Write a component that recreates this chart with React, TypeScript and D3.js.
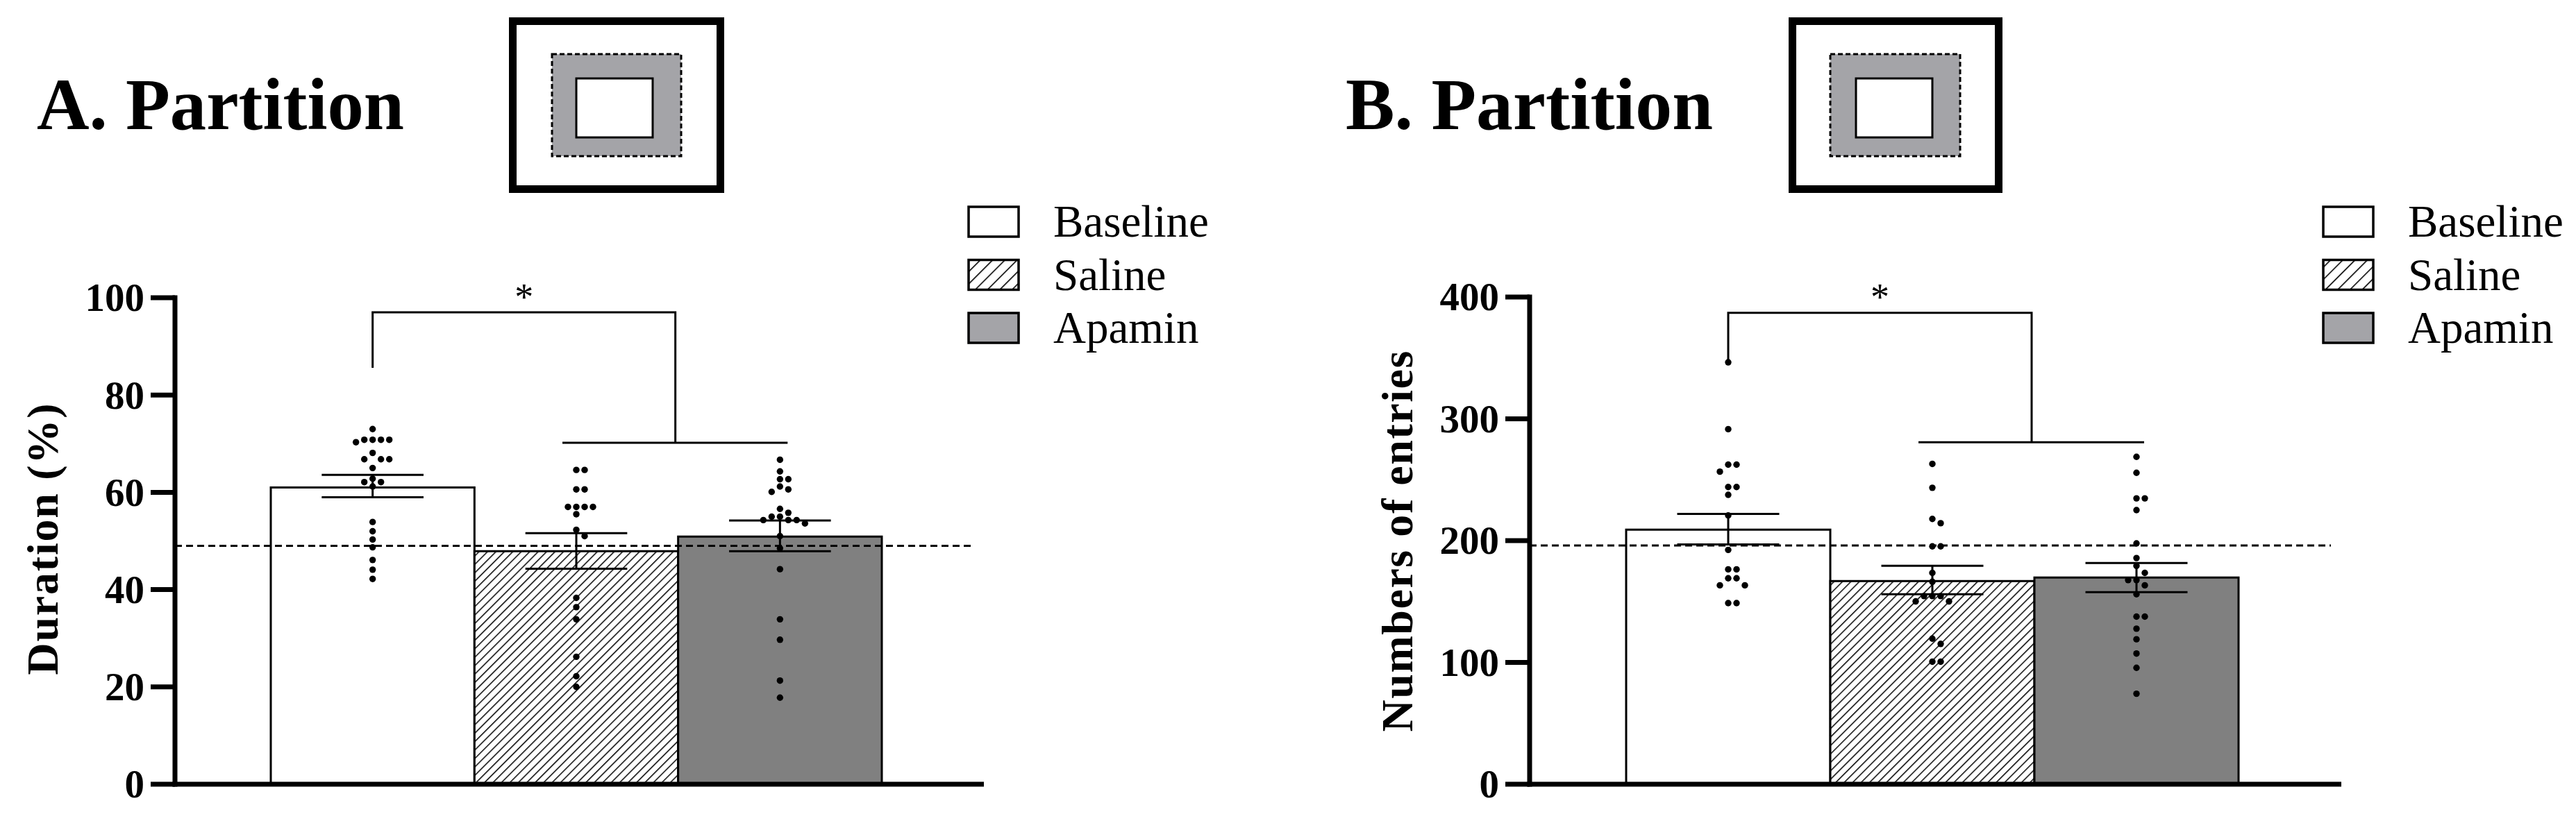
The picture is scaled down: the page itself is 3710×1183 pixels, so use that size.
import React from "react";
import * as d3 from "d3";

// ---------- data ----------
const groups = ["Baseline", "Saline", "Apamin"];
const panelTitles = ["A. Partition", "B. Partition"];
const yAxisLabels = ["Duration (%)", "Numbers of entries"];
const yDomainMax = [100, 400];
const yTickCounts = [5, 4];

const durationMeans = [61.0, 47.9, 50.9];
const durationUpper = [63.6, 51.6, 54.2];
const durationLower = [59.0, 44.3, 47.9];
const entriesMeans = [209, 166.8, 169.7];
const entriesUpper = [222, 179.3, 181.6];
const entriesLower = [196.8, 156, 157.7];

const durationBaselineDots = [73.0, 70.8, 70.8, 70.8, 70.8, 70.3, 68.1, 66.8, 66.8, 66.8, 65.0, 62.8, 62.1, 62.1, 61.2, 53.9, 52.0, 50.3, 48.7, 46.1, 44.1, 42.2];
const durationSalineDots = [64.6, 64.6, 60.6, 60.6, 57.0, 57.0, 57.0, 57.0, 55.5, 52.3, 51.0, 38.3, 36.4, 33.9, 26.2, 22.2, 20.0];
const durationApaminDots = [66.7, 64.3, 62.7, 62.7, 61.2, 60.6, 60.1, 56.6, 55.8, 55.0, 55.0, 54.3, 54.3, 54.3, 53.6, 51.0, 48.5, 44.2, 33.9, 29.7, 21.3, 17.8];

const entriesBaselineDots = [346.4, 291.5, 262.4, 262.4, 256.6, 244, 244, 237.6, 220.7, 192.4, 176.4, 176.4, 169.1, 169.1, 163.3, 163.3, 148.7, 148.7];
const entriesSalineDots = [263, 243.4, 217.8, 214.3, 195.3, 195.3, 173.5, 166.2, 154.5, 154.5, 154.5, 150.1, 150.1, 119.5, 115.2, 100.6, 100.6];
const entriesApaminDots = [268.8, 255.7, 234.7, 234.7, 225.1, 197.7, 185.7, 179.3, 173.5, 167.6, 167.6, 163.3, 156, 137.6, 137.6, 127.7, 119, 107.3, 95.6, 74.3];

const referenceLines = [49, 196];
// [bracket top, left leg end, right leg end / lower bar level]
const bracketDuration = [97, 85.6, 70.2];
const bracketEntries = [387, 346.5, 280.7];
const significance = ["*", "*"];

// ---------- layout ----------
const W = 3710;
const H = 1183;
const FONT = "'Liberation Serif', 'Times New Roman', Times, serif";

const layouts = [
  {
    axisX: 252, axisEnd: 1417, barStart: 390, barEnd: 1270, yTop: 429, yBottom: 1130,
    titleX: 53, icon: [733, 1043], iconGray: [795, 981], iconWhite: [830, 940],
    legendX: 1395, ylabelX: 83, ylabelY: 777, ylabelLen: 391, dashEnd: 1402,
  },
  {
    axisX: 2203, axisEnd: 3372, barStart: 2342, barEnd: 3224, yTop: 428, yBottom: 1130,
    titleX: 1938, icon: [2576, 2884], iconGray: [2636, 2823], iconWhite: [2673, 2783],
    legendX: 3346, ylabelX: 2034, ylabelY: 780, ylabelLen: 549, dashEnd: 3357,
  },
];

function swarmOffsets(ys: number[], step: number, minDist: number): number[] {
  const idx = ys.map((_, i) => i).sort((a, b) => ys[a] - ys[b]);
  const placed: { x: number; y: number }[] = [];
  const out = new Array(ys.length).fill(0);
  for (const i of idx) {
    const y = ys[i];
    for (let k = 0; k < 30; k++) {
      const m = k === 0 ? 0 : k % 2 === 1 ? (k + 1) / 2 : -k / 2;
      const x = m * step;
      if (placed.every((p) => Math.hypot(p.x - x, p.y - y) >= minDist)) {
        out[i] = x;
        placed.push({ x, y });
        break;
      }
    }
  }
  return out;
}

type PanelProps = {
  p: number;
  means: number[];
  upper: number[];
  lower: number[];
  dots: number[][];
  refLine: number;
  bracket: number[];
};

function Panel({ p, means, upper, lower, dots, refLine, bracket }: PanelProps) {
  const L = layouts[p];
  const y = d3.scaleLinear().domain([0, yDomainMax[p]]).range([L.yBottom, L.yTop]);
  const x = d3.scaleBand().domain(groups).range([L.barStart, L.barEnd]).padding(0);
  const bw = x.bandwidth();
  const cx = (g: string) => (x(g) as number) + bw / 2;
  const ticks = y.ticks(yTickCounts[p]);
  const fills = ["#ffffff", "url(#hatch)", "#808080"];
  const legendFills = ["#ffffff", "url(#hatchLegend)", "#a4a4a8"];
  const capHalf = bw / 4;

  const leftX = cx(groups[0]);
  const rightX = (x(groups[2]) as number) - 4;
  const lowL = cx(groups[1]) - 20;
  const lowR = cx(groups[2]) + 11;

  return (
    <g>
      {/* title */}
      <text x={L.titleX} y={186} fontFamily={FONT} fontWeight="bold" fontSize={106} textLength={529} lengthAdjust="spacingAndGlyphs" fill="#000">
        {panelTitles[p]}
      </text>
      {/* arena icon */}
      <rect x={L.icon[0] + 5.5} y={30.5} width={L.icon[1] - L.icon[0] - 11} height={242} fill="#fff" stroke="#000" strokeWidth={11} />
      <rect x={L.iconGray[0]} y={78} width={L.iconGray[1] - L.iconGray[0]} height={147} fill="#a4a4a8" stroke="#000" strokeWidth={3} strokeDasharray="7,4" />
      <rect x={L.iconWhite[0]} y={113} width={L.iconWhite[1] - L.iconWhite[0]} height={85} fill="#fff" stroke="#000" strokeWidth={3} />

      {/* legend */}
      {groups.map((g, i) => (
        <g key={g}>
          <rect x={L.legendX} y={298 + i * 76.5} width={72} height={43} fill={legendFills[i]} stroke="#000" strokeWidth={3.5} />
          <text x={L.legendX + 122} y={341 + i * 76.5} fontFamily={FONT} fontSize={65} fill="#000">
            {g}
          </text>
        </g>
      ))}

      {/* bars */}
      {groups.map((g, i) => (
        <rect key={g} x={x(g)} y={y(means[i])} width={bw} height={y(0) - y(means[i])} fill={fills[i]} stroke="#000" strokeWidth={3} />
      ))}

      {/* reference line */}
      <line x1={L.axisX} x2={L.dashEnd} y1={y(refLine)} y2={y(refLine)} stroke="#000" strokeWidth={3.2} strokeDasharray="10,6" />

      {/* error bars */}
      {groups.map((g, i) => (
        <g key={g} stroke="#000" strokeWidth={3}>
          <line x1={cx(g)} x2={cx(g)} y1={y(lower[i])} y2={y(upper[i])} />
          <line x1={cx(g) - capHalf} x2={cx(g) + capHalf} y1={y(upper[i])} y2={y(upper[i])} />
          <line x1={cx(g) - capHalf} x2={cx(g) + capHalf} y1={y(lower[i])} y2={y(lower[i])} />
        </g>
      ))}

      {/* dots */}
      {groups.map((g, i) => {
        const ys = dots[i].map((v) => y(v));
        const offs = swarmOffsets(ys, 12, 10.5);
        return (
          <g key={g}>
            {ys.map((yy, j) => (
              <circle key={j} cx={cx(g) + offs[j]} cy={yy} r={4.7} fill="#000" />
            ))}
          </g>
        );
      })}

      {/* significance bracket */}
      <g stroke="#000" strokeWidth={3} fill="none">
        <polyline points={`${leftX},${y(bracket[1])} ${leftX},${y(bracket[0])} ${rightX},${y(bracket[0])} ${rightX},${y(bracket[2])}`} />
        <line x1={lowL} x2={lowR} y1={y(bracket[2])} y2={y(bracket[2])} />
      </g>
      <text x={(leftX + rightX) / 2} y={446} textAnchor="middle" fontFamily={FONT} fontSize={54} fill="#000">
        {significance[p]}
      </text>

      {/* axes */}
      <line x1={L.axisX} x2={L.axisX} y1={L.yTop - 3.5} y2={L.yBottom + 3.5} stroke="#000" strokeWidth={7} />
      <line x1={L.axisX - 3.5} x2={L.axisEnd} y1={L.yBottom} y2={L.yBottom} stroke="#000" strokeWidth={7} />
      {ticks.map((t) => (
        <g key={t}>
          <line x1={L.axisX - 35} x2={L.axisX} y1={y(t)} y2={y(t)} stroke="#000" strokeWidth={7} />
          <text x={L.axisX - 44} y={y(t)} dy="0.34em" textAnchor="end" fontFamily={FONT} fontWeight="bold" fontSize={57} fill="#000">
            {t}
          </text>
        </g>
      ))}
      <text
        transform={`translate(${L.ylabelX},${L.ylabelY}) rotate(-90)`}
        textAnchor="middle"
        fontFamily={FONT}
        fontWeight="bold"
        fontSize={64}
        textLength={L.ylabelLen}
        lengthAdjust="spacing"
        fill="#000"
      >
        {yAxisLabels[p]}
      </text>
    </g>
  );
}

export default function App() {
  return (
    <svg width={W} height={H} viewBox={`0 0 ${W} ${H}`} style={{ position: "absolute", left: 0, top: 0, background: "#fff" }}>
      <defs>
        <pattern id="hatch" patternUnits="userSpaceOnUse" width={8.6} height={8.6} patternTransform="rotate(45)">
          <rect width={8.6} height={8.6} fill="#fff" />
          <line x1={0} y1={0} x2={0} y2={8.6} stroke="#000" strokeWidth={3} />
        </pattern>
        <pattern id="hatchLegend" patternUnits="userSpaceOnUse" width={12.5} height={12.5} patternTransform="rotate(45)">
          <rect width={12.5} height={12.5} fill="#fff" />
          <line x1={0} y1={0} x2={0} y2={12.5} stroke="#000" strokeWidth={3.2} />
        </pattern>
      </defs>
      <rect width={W} height={H} fill="#fff" />
      <Panel p={0} means={durationMeans} upper={durationUpper} lower={durationLower}
        dots={[durationBaselineDots, durationSalineDots, durationApaminDots]}
        refLine={referenceLines[0]} bracket={bracketDuration} />
      <Panel p={1} means={entriesMeans} upper={entriesUpper} lower={entriesLower}
        dots={[entriesBaselineDots, entriesSalineDots, entriesApaminDots]}
        refLine={referenceLines[1]} bracket={bracketEntries} />
    </svg>
  );
}
